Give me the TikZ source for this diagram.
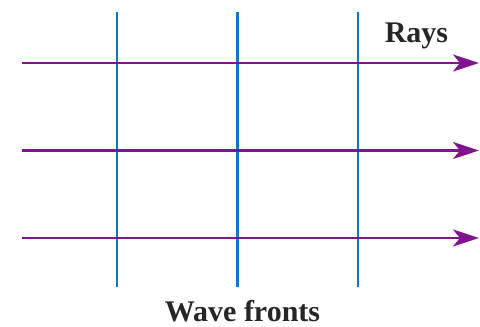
\documentclass[tikz,border=0pt]{standalone}
\usepackage{fontspec}
\setmainfont{Liberation Serif}
\usetikzlibrary{arrows.meta}

\begin{document}
\begin{tikzpicture}[x=1pt,y=1pt,line width=0.4pt]
\definecolor{rayviolet}{RGB}{128,20,140}
\definecolor{frontblue}{RGB}{10,120,200}
\providecommand{\flabel}{\fontsize{30}{33}\selectfont\bfseries}
\tikzset{ray/.style={draw=rayviolet,line width=2.4pt,-{Stealth[length=26pt,width=17pt,inset=7pt]}},
  front/.style={draw=frontblue,line width=2.8pt}}
\useasboundingbox (0,0) rectangle (480,327);
% wave fronts
\coordinate (f1t) at (117.00,315.00);
\coordinate (f1b) at (117.00,40.00);
\coordinate (f2t) at (237.50,315.00);
\coordinate (f2b) at (237.50,40.00);
\coordinate (f3t) at (358.00,315.00);
\coordinate (f3b) at (358.00,40.00);
\draw[front] (f1t) -- (f1b);
\draw[front] (f2t) -- (f2b);
\draw[front] (f3t) -- (f3b);
% rays
\coordinate (r1s) at (22.00,264.00);
\coordinate (r1e) at (479.00,264.00);
\coordinate (r2s) at (22.00,176.50);
\coordinate (r2e) at (479.00,176.50);
\coordinate (r3s) at (22.00,89.00);
\coordinate (r3e) at (479.00,89.00);
\draw[ray] (r1s) -- (r1e);
\draw[ray] (r2s) -- (r2e);
\draw[ray] (r3s) -- (r3e);
% labels
\node[anchor=base,inner sep=0pt,font=\flabel,text=black!85] (rays) at (416.50,284.00) {Rays};
\node[anchor=base,inner sep=0pt,font=\flabel,text=black!85] (fronts) at (242.50,5.50) {Wave fronts};
\end{tikzpicture}
\end{document}
